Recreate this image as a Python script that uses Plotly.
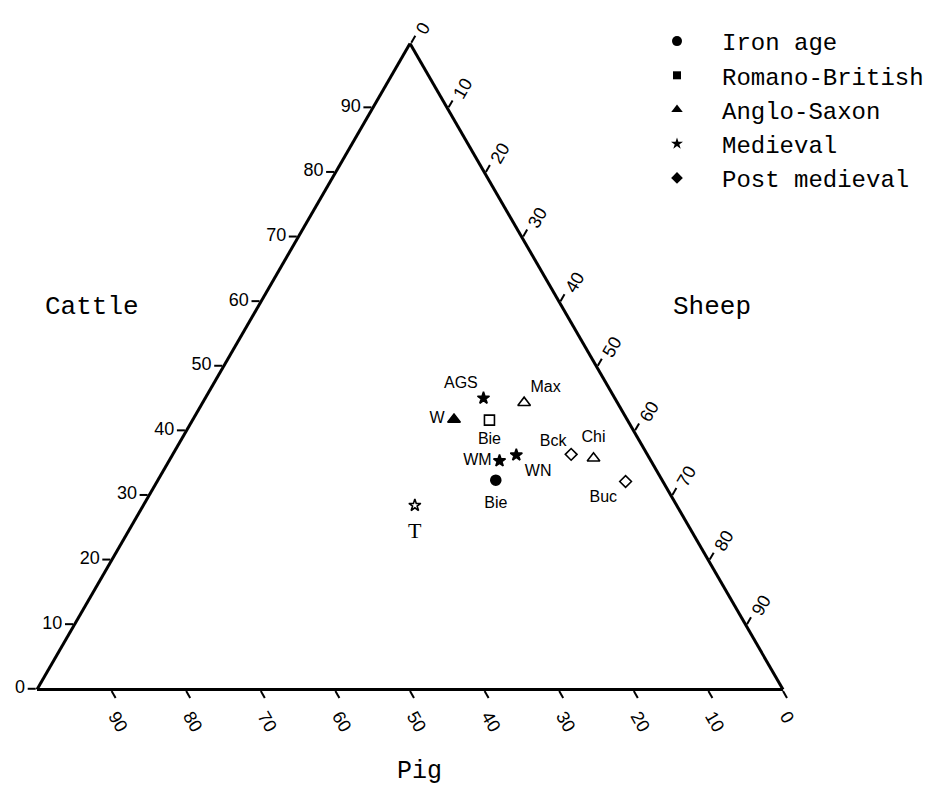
import plotly.graph_objects as go

# ---- data (percent of cattle / pig / sheep bones) ----
sites = ["Bie", "Bie", "W", "Max", "Chi", "AGS", "WM", "WN", "T", "Bck", "Buc"]
periods = ["Iron age", "Romano-British", "Anglo-Saxon", "Anglo-Saxon", "Anglo-Saxon",
           "Medieval", "Medieval", "Medieval", "Medieval", "Post medieval", "Post medieval"]
filled = [True, False, True, False, False, True, True, True, False, False, False]
cattle = [32.4, 41.7, 41.8, 44.4, 35.8, 45.1, 35.4, 36.3, 28.5, 36.4, 32.2]
pig = [22.3, 18.5, 23.2, 12.5, 7.5, 17.6, 20.3, 17.6, 35.1, 10.2, 5.0]
sheep = [45.3, 39.8, 35.0, 43.1, 56.7, 37.3, 44.3, 46.1, 36.4, 53.4, 62.8]
period_order = ["Iron age", "Romano-British", "Anglo-Saxon", "Medieval", "Post medieval"]
tick_values = [0, 10, 20, 30, 40, 50, 60, 70, 80, 90]

# ---- styles ----
symbols = {"Iron age": "circle", "Romano-British": "square", "Anglo-Saxon": "triangle-up",
           "Medieval": "star", "Post medieval": "diamond"}
sizes = {"Iron age": 10, "Romano-British": 10, "Anglo-Saxon": 11,
         "Medieval": 9, "Post medieval": 9}
legend_sizes = {"Iron age": 10, "Romano-British": 8, "Anglo-Saxon": 10,
                "Medieval": 9, "Post medieval": 9}
label_pos = ["bottom center", "bottom center", "middle left", "top right", "top center",
             "top left", "middle left", "bottom right", "bottom center", "top left",
             "bottom left"]
# size of an invisible marker that sets the gap between each point and its label
label_gap = [23, 17, 13.5, 8.5, 18, 7.5, 11, 12, 24, 6, 12]

W, H = 946, 790
fig = go.Figure()

for i, s in enumerate(sites):
    p = periods[i]
    sym = symbols[p] if filled[i] else symbols[p] + "-open"
    is_t = s == "T"
    fig.add_trace(go.Scatterternary(
        a=[cattle[i]], b=[pig[i]], c=[sheep[i]], mode="markers",
        marker=dict(symbol=sym, size=sizes[p], color="black",
                    line=dict(color="black", width=1.6)),
        showlegend=False, hoverinfo="skip",
    ))
    fig.add_trace(go.Scatterternary(
        a=[cattle[i]], b=[pig[i]], c=[sheep[i]],
        mode="markers+text", text=[s], textposition=label_pos[i],
        textfont=dict(family="Liberation Serif" if is_t else "Liberation Sans",
                      size=22 if is_t else 16, color="black"),
        marker=dict(size=label_gap[i], color="rgba(0,0,0,0)",
                    line=dict(width=0)),
        showlegend=False, hoverinfo="skip",
    ))

for p in period_order:
    fig.add_trace(go.Scatterternary(
        a=[None], b=[None], c=[None], mode="markers", name=p,
        marker=dict(symbol=symbols[p], size=legend_sizes[p], color="black"),
        showlegend=True,
    ))

axis_common = dict(
    min=0, tickmode="array", tickvals=tick_values,
    ticks="outside", ticklen=8, tickwidth=2, tickcolor="black",
    linecolor="black", linewidth=3, showline=True, showgrid=False,
    tickfont=dict(family="Liberation Sans", size=18, color="black"),
    title=dict(text=""),
)

title_font = dict(family="Liberation Mono", size=26, color="black")

fig.update_layout(
    width=W, height=H,
    margin=dict(l=0, r=0, t=0, b=0),
    paper_bgcolor="white",
    ternary=dict(
        sum=100,
        bgcolor="white",
        domain=dict(x=[37 / W, 783 / W], y=[1 - 691 / H, 1 - 42 / H]),
        aaxis=dict(**axis_common),
        baxis=dict(**axis_common, tickangle=60),
        caxis=dict(**axis_common, tickangle=-60),
    ),
    legend=dict(
        x=632 / W, y=1 - 19 / H, xanchor="left", yanchor="top",
        font=dict(family="Liberation Mono", size=24, color="black"),
        itemwidth=80, bgcolor="rgba(0,0,0,0)", tracegroupgap=0,
    ),
    annotations=[
        dict(text="Cattle", x=92 / W, y=1 - 307 / H, xref="paper", yref="paper",
             xanchor="center", yanchor="middle", showarrow=False, font=title_font),
        dict(text="Sheep", x=712 / W, y=1 - 307 / H, xref="paper", yref="paper",
             xanchor="center", yanchor="middle", showarrow=False, font=title_font),
        dict(text="Pig", x=419 / W, y=1 - 771 / H, xref="paper", yref="paper",
             xanchor="center", yanchor="middle", showarrow=False,
             font=dict(family="Liberation Mono", size=25, color="black")),
    ],
)

fig.write_html("out.html", config={"displayModeBar": False},
               post_script="document.body.style.margin='0';")
